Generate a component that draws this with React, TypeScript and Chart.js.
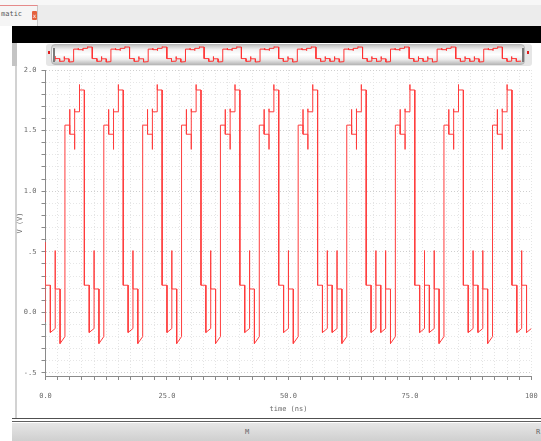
import React, { useEffect, useRef } from 'react';
import { Chart, registerables } from 'chart.js';

Chart.register(...registerables);

// ---- Data (1-ns steps, time in ns, voltage in V) ----
const stepTimes = Array.from({ length: 101 }, (_, i) => i);

// level at the start of each 1-ns step
const stepStart = [
  0.224, -0.166, 0.193, -0.257, 1.545, 1.47, 1.655, 1.835, 0.224, -0.166,
  0.193, -0.257, 1.545, 1.47, 1.655, 1.835, 0.224, -0.166, 0.193, -0.257,
  1.545, 1.47, 1.655, 1.835, 0.224, -0.166, 0.193, -0.257, 1.545, 1.47,
  1.655, 1.835, 0.224, -0.166, 0.193, -0.257, 1.545, 1.47, 1.655, 1.835,
  0.224, -0.166, 0.193, -0.257, 1.545, 1.47, 1.655, 1.835, 0.224, -0.166,
  0.193, -0.257, 1.545, 1.47, 1.655, 1.835, 0.224, -0.166, 0.224, -0.166,
  0.193, -0.257, 1.545, 1.47, 1.655, 1.835, 0.224, -0.166, 0.224, -0.166,
  0.193, -0.257, 1.545, 1.47, 1.655, 1.835, 0.224, -0.166, 0.224, -0.166,
  0.193, -0.257, 1.545, 1.47, 1.655, 1.835, 0.224, -0.166, 0.224, -0.166,
  0.193, -0.257, 1.545, 1.47, 1.655, 1.835, 0.224, -0.166, 0.224, -0.166,
];

// level at the end of each 1-ns step (the low steps ramp slightly)
const stepEnd = [
  0.224, -0.133, 0.193, -0.2, 1.545, 1.47, 1.655, 1.835, 0.224, -0.133,
  0.193, -0.2, 1.545, 1.47, 1.655, 1.835, 0.224, -0.133, 0.193, -0.2,
  1.545, 1.47, 1.655, 1.835, 0.224, -0.133, 0.193, -0.2, 1.545, 1.47,
  1.655, 1.835, 0.224, -0.133, 0.193, -0.2, 1.545, 1.47, 1.655, 1.835,
  0.224, -0.133, 0.193, -0.2, 1.545, 1.47, 1.655, 1.835, 0.224, -0.133,
  0.193, -0.2, 1.545, 1.47, 1.655, 1.835, 0.224, -0.133, 0.224, -0.133,
  0.193, -0.2, 1.545, 1.47, 1.655, 1.835, 0.224, -0.133, 0.224, -0.133,
  0.193, -0.2, 1.545, 1.47, 1.655, 1.835, 0.224, -0.133, 0.224, -0.133,
  0.193, -0.2, 1.545, 1.47, 1.655, 1.835, 0.224, -0.133, 0.224, -0.133,
  0.193, -0.2, 1.545, 1.47, 1.655, 1.835, 0.224, -0.133, 0.224, -0.133,
];

// upward glitch at the start of a step
const spikeUp = [
  0.58, null, 0.51, null, null, 1.675, 1.68, 1.88, null, null,
  0.51, null, null, 1.675, 1.68, 1.88, null, null, 0.51, null,
  null, 1.675, 1.68, 1.88, null, null, 0.51, null, null, 1.675,
  1.68, 1.88, null, null, 0.51, null, null, 1.675, 1.68, 1.88,
  null, null, 0.51, null, null, 1.675, 1.68, 1.88, null, null,
  0.51, null, null, 1.675, 1.68, 1.88, null, null, 0.51, null,
  0.51, null, null, 1.675, 1.68, 1.88, null, null, 0.51, null,
  0.51, null, null, 1.675, 1.68, 1.88, null, null, 0.51, null,
  0.51, null, null, 1.675, 1.68, 1.88, null, null, 0.51, null,
  0.51, null, null, 1.675, 1.68, 1.88, null, null, 0.51, null,
];

// downward glitch at the start of a step
const spikeDown = [
  -0.08, null, null, null, null, null, 1.345, null, null, null,
  null, null, null, null, 1.345, null, null, null, null, null,
  null, null, 1.345, null, null, null, null, null, null, null,
  1.345, null, null, null, null, null, null, null, 1.345, null,
  null, null, null, null, null, null, 1.345, null, null, null,
  null, null, null, null, 1.345, null, null, null, null, null,
  null, null, null, null, 1.345, null, null, null, null, null,
  null, null, null, null, 1.345, null, null, null, null, null,
  null, null, null, null, 1.345, null, null, null, null, null,
  null, null, null, null, 1.345, null, null, null, null, null,
];

// axis ticks
const xMajorTicks = [0, 25, 50, 75, 100];
const xTickLabels = ['0.0', '25.0', '50.0', '75.0', '100'];
const xMinorStep = 2.5;
const yMajorTicks = [-0.5, 0, 0.5, 1.0, 1.5, 2.0];
const yTickLabels = ['-.5', '0.0', '.5', '1.0', '1.5', '2.0'];
const yMinorStep = 0.1;

const X_MIN = 0;
const X_MAX = 100;
const Y_MIN = -0.525;
const Y_MAX = 2.0;

function buildPoints() {
  const pts: { x: number; y: number }[] = [];
  for (let i = 0; i < stepStart.length; i++) {
    const t0 = stepTimes[i];
    const t1 = stepTimes[i + 1];
    if (spikeDown[i] !== null) pts.push({ x: t0, y: spikeDown[i] as number });
    if (spikeUp[i] !== null) pts.push({ x: t0, y: spikeUp[i] as number });
    pts.push({ x: t0, y: stepStart[i] });
    pts.push({ x: t1, y: stepEnd[i] });
  }
  return pts;
}

const isNear = (a: number, b: number) => Math.abs(a - b) < 1e-6;
const MONO = "'DejaVu Sans Mono', monospace";

export default function App() {
  const mainRef = useRef<HTMLCanvasElement>(null);
  const miniRef = useRef<HTMLCanvasElement>(null);

  useEffect(() => {
    document.body.style.margin = '0';
    const points = buildPoints();

    const xTicks: number[] = [];
    for (let v = X_MIN; v <= X_MAX + 1e-9; v += xMinorStep) xTicks.push(Math.round(v * 10) / 10);
    const yTicks: number[] = [];
    for (let k = -5; k <= 20; k++) yTicks.push(Math.round(k * yMinorStep * 10) / 10);

    const main = new Chart(mainRef.current!, {
      type: 'line',
      data: {
        datasets: [
          {
            data: points,
            borderColor: 'rgb(255,60,60)',
            borderWidth: 1,
            pointRadius: 0,
            tension: 0,
            fill: false,
          },
        ],
      },
      options: {
        responsive: false,
        animation: false,
        events: [],
        layout: { padding: { left: 0, top: 70, right: 9.6, bottom: 23 } },
        plugins: { legend: { display: false }, tooltip: { enabled: false } },
        scales: {
          x: {
            type: 'linear',
            min: X_MIN,
            max: X_MAX,
            afterBuildTicks: (scale: any) => {
              scale.ticks = xTicks.map((v) => ({ value: v }));
            },
            afterFit: (scale: any) => {
              scale.height = 42;
              scale.paddingLeft = 0;
              scale.paddingRight = 0;
            },
            grid: {
              color: '#e4e4e4',
              lineWidth: 1,
              tickLength: 4,
              tickColor: '#8a8a8a',
            },
            border: { display: true, color: '#8a8a8a', width: 1, dash: [1, 2] },
            ticks: {
              autoSkip: false,
              maxRotation: 0,
              minRotation: 0,
              padding: 12,
              color: '#6a6a6a',
              font: { family: MONO, size: 7 },
              callback: (value: any) => {
                const idx = xMajorTicks.findIndex((m) => isNear(m, Number(value)));
                return idx >= 0 ? xTickLabels[idx] : '';
              },
            },
            title: {
              display: true,
              text: 'time (ns)',
              color: '#6a6a6a',
              font: { family: MONO, size: 7 },
              padding: { top: 0, bottom: 5 },
            },
          },
          y: {
            type: 'linear',
            min: Y_MIN,
            max: Y_MAX,
            afterBuildTicks: (scale: any) => {
              scale.ticks = yTicks.map((v) => ({ value: v }));
            },
            afterFit: (scale: any) => {
              scale.width = 45.5;
            },
            grid: {
              color: (ctx: any) =>
                yMajorTicks.some((m) => isNear(m, ctx.tick ? ctx.tick.value : NaN)) ? '#cfcfcf' : '#e6e6e6',
              lineWidth: 1,
              tickLength: 4,
              tickColor: '#8a8a8a',
            },
            border: { display: true, color: '#8a8a8a', width: 1, dash: [1, 2] },
            ticks: {
              autoSkip: false,
              padding: 5,
              color: '#6a6a6a',
              font: { family: MONO, size: 7 },
              callback: (value: any) => {
                const idx = yMajorTicks.findIndex((m) => isNear(m, Number(value)));
                return idx >= 0 ? yTickLabels[idx] : '';
              },
            },
            title: {
              display: true,
              text: 'V (V)',
              color: '#6a6a6a',
              font: { family: MONO, size: 7 },
              padding: { top: 16, bottom: 0 },
            },
          },
        },
      },
    } as any);

    const mini = new Chart(miniRef.current!, {
      type: 'line',
      data: {
        datasets: [
          {
            data: points,
            borderColor: 'rgb(255,50,50)',
            borderWidth: 1,
            pointRadius: 0,
            tension: 0,
            fill: false,
          },
        ],
      },
      options: {
        responsive: false,
        animation: false,
        events: [],
        layout: { padding: 0 },
        plugins: { legend: { display: false }, tooltip: { enabled: false } },
        scales: {
          x: { type: 'linear', display: false, min: X_MIN, max: X_MAX },
          y: { type: 'linear', display: false, min: -0.39, max: 1.98 },
        },
      },
    } as any);

    return () => {
      main.destroy();
      mini.destroy();
    };
  }, []);

  const abs = (s: React.CSSProperties): React.CSSProperties => ({ position: 'absolute', ...s });

  return (
    <div
      style={{
        position: 'fixed',
        left: 0,
        top: 0,
        width: 541,
        height: 441,
        overflow: 'hidden',
        background: '#ffffff',
      }}
    >
      {/* top tab strip */}
      <div style={abs({ left: 0, top: 0, width: 541, height: 5, background: '#f7f7f7' })} />
      <div style={abs({ left: 0, top: 5, width: 541, height: 21, background: '#ececec' })} />
      <div
        style={abs({
          left: 0,
          top: 5,
          width: 38,
          height: 21,
          background: '#f5f5f5',
          borderTop: '1px solid #e58a8a',
          borderRight: '1px solid #c9c9c9',
          boxSizing: 'border-box',
        })}
      />
      <div
        style={abs({
          left: 1,
          top: 10,
          fontFamily: MONO,
          fontSize: 7,
          color: '#555',
          lineHeight: '8px',
          whiteSpace: 'nowrap',
        })}
      >
        matic
      </div>
      <div
        style={abs({
          left: 32,
          top: 11,
          width: 5,
          height: 9,
          background: '#e4623e',
          borderRadius: 1,
          color: '#fff',
          fontFamily: MONO,
          fontSize: 6,
          lineHeight: '9px',
          textAlign: 'center',
        })}
      >
        x
      </div>

      {/* black toolbar */}
      <div style={abs({ left: 12, top: 26, width: 529, height: 17, background: '#000' })} />

      {/* left frame */}
      <div style={abs({ left: 12, top: 43, width: 5, height: 23, background: '#c4c4c4' })} />
      <div style={abs({ left: 15, top: 66, width: 2, height: 352, background: '#d2d2d2' })} />

      {/* overview strip */}
      <div
        style={abs({
          left: 46,
          top: 44,
          width: 486,
          height: 22,
          background: '#e6e6e6',
          borderRadius: 3,
        })}
      />
      <div
        style={abs({
          left: 51,
          top: 44,
          width: 474,
          height: 21,
          borderRadius: 4,
          boxSizing: 'border-box',
          border: '1px solid #b8b8b8',
          background:
            'linear-gradient(to bottom, #c4c4c4 0%, #f2f2f2 25%, #ffffff 50%, #ededed 75%, #bdbdbd 100%)',
        })}
      />
      <div style={abs({ left: 53, top: 48, width: 2, height: 14, background: '#7a7a7a' })} />
      <div style={abs({ left: 522, top: 48, width: 2, height: 14, background: '#7a7a7a' })} />
      <div style={abs({ left: 48, top: 51, width: 2, height: 3, background: '#e02020' })} />
      <div style={abs({ left: 527, top: 51, width: 2, height: 3, background: '#e02020' })} />
      <canvas
        ref={miniRef}
        width={466}
        height={17}
        style={abs({ left: 55, top: 46, width: 466, height: 17, zIndex: 2 })}
      />

      {/* bottom bar */}
      <div style={abs({ left: 12, top: 418, width: 529, height: 1, background: '#505050' })} />
      <div style={abs({ left: 12, top: 421, width: 529, height: 1, background: '#606060' })} />
      <div
        style={abs({
          left: 12,
          top: 423,
          width: 529,
          height: 18,
          background: 'linear-gradient(to bottom, #e6e6e6, #cfcfcf)',
        })}
      />
      <div style={abs({ left: 245, top: 428, fontFamily: MONO, fontSize: 7, color: '#666', lineHeight: '8px' })}>
        M
      </div>
      <div style={abs({ left: 536, top: 428, fontFamily: MONO, fontSize: 7, color: '#666', lineHeight: '8px' })}>
        R
      </div>

      {/* main chart */}
      <canvas
        ref={mainRef}
        width={541}
        height={441}
        style={abs({ left: 0, top: 0, width: 541, height: 441, zIndex: 3, pointerEvents: 'none' })}
      />
    </div>
  );
}
